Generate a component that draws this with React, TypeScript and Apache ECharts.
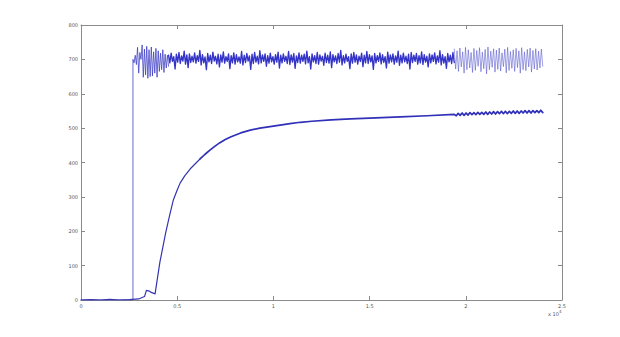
import React, { useEffect, useRef } from "react";
import * as echarts from "echarts";

// x axis in units of 10^4
const xTicks = [0, 0.5, 1, 1.5, 2, 2.5];
const yTicks = [0, 100, 200, 300, 400, 500, 600, 700, 800];

// Series 1: oscillating signal, three segments
const oscStart = [
  [0, 0],
  [0.27, 0],
  [0.27, 700],
];
const segA = [700, 690, 712, 685, 735, 660, 720, 700, 742, 648, 730, 655, 738, 645, 728, 650, 736, 652, 722, 660, 732, 648, 725, 665, 718, 670, 728, 662, 715, 675, 712, 680];
const segB = [
  712, 690, 718, 694, 708, 672, 715, 692, 720, 688, 710, 695, 724, 686, 713, 676, 716, 691, 709, 693,
  719, 689, 711, 694, 726, 684, 714, 690, 707, 670, 717, 693, 712, 688, 721, 695, 709, 687, 715, 678,
  713, 692, 722, 689, 708, 694, 716, 673, 711, 690, 719, 686, 714, 693, 707, 689, 723, 684, 712, 691,
  717, 695, 710, 671, 715, 688, 720, 692, 709, 687, 725, 690, 713, 694, 716, 680, 711, 689, 718, 693,
  708, 686, 714, 692, 721, 675, 712, 690, 716, 694, 709, 688, 723, 685, 713, 692, 717, 674, 710, 691,
  719, 689, 712, 694, 715, 687, 724, 690, 708, 672, 716, 693, 711, 688, 720, 686, 713, 695, 709, 683,
  718, 691, 712, 689, 722, 676, 714, 693, 710, 688, 717, 692, 726, 684, 711, 690, 715, 694, 708, 673,
  716, 689, 720, 692, 713, 686, 709, 694, 718, 679, 712, 690, 723, 688, 714, 693, 710, 671, 717, 690,
  711, 694, 719, 687, 714, 691, 708, 675, 721, 689, 713, 693, 716, 686, 710, 692, 724, 683, 712, 690,
  718, 693, 709, 688, 715, 672, 720, 691, 712, 694, 717, 686, 711, 690, 722, 685, 714, 692, 709, 678,
  716, 690, 713, 694, 719, 687, 710, 692, 725, 684, 714, 689, 708, 674, 717, 693, 712, 688, 720, 691,
];
const segC = [730, 672, 725, 665, 733, 678, 722, 660, 735, 670, 728, 675, 720, 662, 732, 668, 726, 680, 734, 664, 721, 673, 729, 658, 736, 670, 724, 677, 731, 663, 727, 671, 733, 666, 719, 679, 730, 661, 735, 668, 723, 674, 728, 665, 732, 676, 725, 660, 734, 670, 722, 667, 729, 678, 733, 663, 726, 672, 731, 669, 724, 675, 730, 680];
const segAX = [0.27, 0.455];
const segBX = [0.455, 1.94];
const segCX = [1.94, 2.4];

// Series 2: rising curve (early thin part, later thick part, ripple tail)
const curveEarlyX = [0, 0.05, 0.1, 0.15, 0.2, 0.25, 0.3, 0.33, 0.34, 0.355, 0.365, 0.375, 0.385, 0.41, 0.44, 0.46, 0.48, 0.5, 0.515, 0.54, 0.567, 0.595, 0.62];
const curveEarlyY = [0, 1, 0, 2, 0, 1, 3, 10, 28, 26, 22, 20, 18, 110, 195, 245, 291, 320, 340, 362, 381, 397, 411];
const curveLateX = [0.62, 0.645, 0.67, 0.695, 0.72, 0.75, 0.78, 0.83, 0.88, 0.93, 1.0, 1.086, 1.14, 1.2, 1.3, 1.4, 1.5, 1.66, 1.8];
const curveLateY = [411, 424, 436, 447, 457, 467, 475, 486, 494, 500, 506, 513, 517, 520, 524, 527, 529, 533, 536];
const rippleY = [540, 536, 543, 537, 544, 537, 544, 538, 545, 539, 545, 539, 546, 540, 546, 540, 547, 540, 547, 541, 548, 541, 548, 542, 549, 542, 549, 542, 549, 543, 550, 543, 550, 543, 550, 544, 551, 544, 551, 544, 551, 545, 551, 545, 552, 545];
const rippleX = [1.94, 2.4];

function segment(values: number[], range: number[]) {
  const n = values.length - 1;
  return values.map((v, i) => [range[0] + ((range[1] - range[0]) * i) / n, v]);
}

export default function App() {
  const ref = useRef<HTMLDivElement>(null);
  useEffect(() => {
    if (!ref.current) return;
    const chart = echarts.init(ref.current, null, { renderer: "svg" });
    const sStart = [...oscStart, ...segment(segA, segAX)];
    const sB = segment(segB, segBX);
    const sC = segment(segC, segCX);
    const s2a = curveEarlyX.map((x, i) => [x, curveEarlyY[i]]);
    const s2b = [...curveLateX.map((x, i) => [x, curveLateY[i]]), ...segment(rippleY, rippleX)];
    const axisLine = { show: true, onZero: false, lineStyle: { color: "#8a8a8a", width: 1 } };
    const tick = { show: true, inside: true, length: 4, lineStyle: { color: "#8a8a8a" } };
    const label = { fontSize: 5, color: "#555", fontFamily: "DejaVu Sans" };
    const lineSeries = (data: number[][], color: string, width: number, z: number) => ({
      type: "line", data, showSymbol: false, symbol: "none",
      lineStyle: { color, width, cap: "round", join: "round" }, z,
    });
    chart.setOption({
      animation: false,
      backgroundColor: "#ffffff",
      grid: { left: 81, right: 58, top: 25, bottom: 37 },
      xAxis: [
        {
          type: "value", min: 0, max: 2.5, interval: 0.5, position: "bottom",
          axisLine, axisTick: tick, splitLine: { show: false },
          axisLabel: { ...label, margin: 3, formatter: (v: number) => (xTicks.includes(v) ? String(v) : "") },
        },
        {
          type: "value", min: 0, max: 2.5, interval: 0.5, position: "top",
          axisLine, axisTick: tick, splitLine: { show: false }, axisLabel: { show: false },
        },
      ],
      yAxis: [
        {
          type: "value", min: 0, max: 800, interval: 100, position: "left",
          axisLine, axisTick: tick, splitLine: { show: false },
          axisLabel: { ...label, margin: 3, formatter: (v: number) => (yTicks.includes(v) ? String(v) : "") },
        },
        {
          type: "value", min: 0, max: 800, interval: 100, position: "right",
          axisLine, axisTick: tick, splitLine: { show: false }, axisLabel: { show: false },
        },
      ],
      graphic: [
        {
          type: "text", left: 548, top: 311,
          style: { text: "x 10", fontSize: 5, fill: "#555", fontFamily: "DejaVu Sans" },
        },
        {
          type: "text", left: 559, top: 309,
          style: { text: "4", fontSize: 4, fill: "#555", fontFamily: "DejaVu Sans" },
        },
      ],
      series: [
        lineSeries(sStart, "#3a3ac4", 0.75, 2),
        lineSeries(sB, "#3434c8", 1.35, 2),
        lineSeries(sC, "#5050cc", 0.55, 2),
        lineSeries(s2a, "#3434b4", 1.2, 3),
        lineSeries(s2b, "#3030b8", 1.7, 3),
      ],
    });
    return () => chart.dispose();
  }, []);
  return <div ref={ref} style={{ position: "fixed", left: 0, top: 0, width: 620, height: 337 }} />;
}
